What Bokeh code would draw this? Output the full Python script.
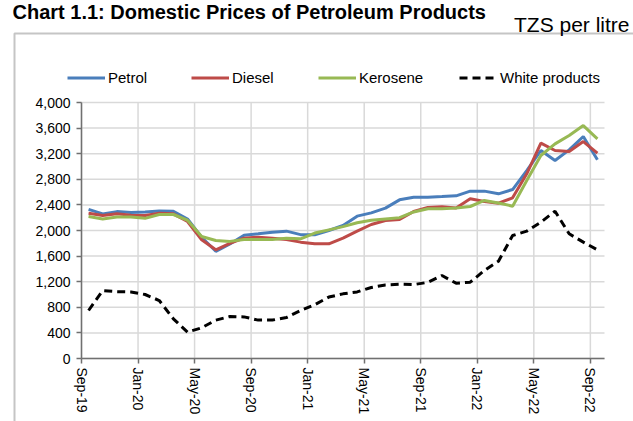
import pandas as pd
from bokeh.plotting import figure
from bokeh.models import (FixedTicker, NumeralTickFormatter, Legend, LegendItem,
                          Label, BoxAnnotation, Range1d)
from bokeh.embed import file_html
from bokeh.resources import INLINE

# ---------------- data ----------------
months = list(pd.period_range("2019-09", "2022-09", freq="M").strftime("%b-%y"))
tick_labels = ["Sep-19", "Jan-20", "May-20", "Sep-20", "Jan-21", "May-21",
               "Sep-21", "Jan-22", "May-22", "Sep-22"]

petrol = [2330, 2260, 2295, 2280, 2290, 2305, 2300, 2180, 1895, 1675, 1790, 1925,
          1948, 1974, 1990, 1935, 1932, 2000, 2078, 2224, 2276, 2349, 2479, 2521,
          2521, 2530, 2542, 2615, 2615, 2573, 2640, 2937, 3250, 3094, 3260, 3469, 3105]
diesel = [2270, 2234, 2260, 2240, 2234, 2270, 2260, 2140, 1854, 1698, 1800, 1880,
          1896, 1880, 1859, 1818, 1792, 1792, 1880, 1990, 2094, 2156, 2172, 2297,
          2360, 2370, 2350, 2495, 2453, 2427, 2510, 2885, 3365, 3250, 3234, 3390, 3208]
kerosene = [2218, 2180, 2210, 2210, 2190, 2250, 2250, 2160, 1906, 1844, 1830, 1860,
            1859, 1860, 1880, 1870, 1960, 2010, 2060, 2120, 2160, 2180, 2200, 2290,
            2340, 2340, 2350, 2375, 2469, 2430, 2380, 2781, 3172, 3354, 3484, 3640, 3432]
white = [750, 1062, 1045, 1040, 1000, 906, 620, 412, 480, 600, 656, 650,
         600, 600, 640, 750, 840, 960, 1010, 1040, 1110, 1150, 1160, 1155,
         1190, 1297, 1177, 1192, 1375, 1521, 1922, 1990, 2130, 2302, 1948, 1818, 1698]

series_names = ["Petrol", "Diesel", "Kerosene", "White products"]
y_ticks = list(range(0, 4001, 400))
y_max = 4000

# ---------------- layout (pixels) ----------------
W, H = 633, 421
PL, PR, PT, PB = 81, 604, 102, 358          # plot area inside the canvas
n = len(months)
x_px = (PR - PL) / n                         # pixels per month
y_px = (PB - PT) / y_max                     # pixels per unit
x_range = Range1d(-PL / x_px, (W - PL) / x_px)
y_range = Range1d(-(H - PB) / y_px, PB / y_px)

FONT = "Liberation Sans"
x = [i + 0.5 for i in range(n)]
tick_pos = [months.index(t) for t in tick_labels]

p = figure(width=W, height=H, output_backend="svg", toolbar_location=None,
           x_range=x_range, y_range=y_range,
           min_border_left=0, min_border_right=0, min_border_top=0,
           min_border_bottom=0)
p.outline_line_color = None
p.background_fill_color = "white"
p.border_fill_color = "white"
p.grid.visible = False

# gridlines limited to the plot area
p.segment(x0=0, x1=n, y0=y_ticks, y1=y_ticks, line_color="#d9d9d9", line_width=1.5)
p.segment(x0=tick_pos, x1=tick_pos, y0=0, y1=y_max, line_color="#d9d9d9", line_width=1.5)

colors = ["#4a7ebb", "#be4b48", "#98b954", "black"]
renderers = []
for vals, col in zip([petrol, diesel, kerosene, white], colors):
    dash = "8 5" if col == "black" else "solid"
    renderers.append(p.line(x, vals, line_color=col, line_width=3, line_dash=dash))

# axes fixed at the plot-area edges
xa, ya = p.xaxis[0], p.yaxis[0]
xa.fixed_location = 0
ya.fixed_location = 0
xa.bounds = (0, n)
ya.bounds = (0, y_max)
xa.ticker = FixedTicker(ticks=tick_pos)
xa.major_label_overrides = {pos: lab for pos, lab in zip(tick_pos, tick_labels)}
xa.major_label_orientation = "vertical"
ya.ticker = FixedTicker(ticks=y_ticks)
ya.formatter = NumeralTickFormatter(format="0,0")
for ax in (xa, ya):
    ax.axis_line_color = "#707070"
    ax.axis_line_width = 1.5
    ax.major_tick_line_color = "#707070"
    ax.major_tick_line_width = 1.5
    ax.major_tick_out = 5
    ax.major_tick_in = 0
    ax.minor_tick_line_color = None
    ax.major_label_text_font = FONT
    ax.major_label_text_color = "black"
    ax.major_label_text_font_size = "14px"
ya.major_label_standoff = 6
xa.major_label_standoff = 4

# legend: one entry each, spread across the top
legend_x = [67, 191, 318, 459]
for name, r, lx in zip(series_names, renderers, legend_x):
    lg = Legend(items=[LegendItem(label=name, renderers=[r])],
                location=(lx, H - 86), orientation="horizontal",
                glyph_width=38, glyph_height=15, label_height=15,
                label_standoff=3, spacing=0, padding=0, margin=0,
                border_line_color=None, background_fill_alpha=0,
                label_text_font=FONT, label_text_font_size="15px",
                label_text_color="black")
    p.add_layout(lg, "center")

# surrounding box and texts
box = BoxAnnotation(left=14, right=W + 50, top=H - 33, bottom=-50,
                    left_units="screen", right_units="screen",
                    top_units="screen", bottom_units="screen",
                    fill_alpha=0, line_color="#404040", line_width=2)
p.add_layout(box)

p.add_layout(Label(x=12, y=H, x_units="screen", y_units="screen",
                   text="Chart 1.1: Domestic Prices of Petroleum Products",
                   text_font=FONT, text_font_size="20px", text_font_style="bold",
                   text_color="black", text_baseline="top"))
p.add_layout(Label(x=629, y=H - 12, x_units="screen", y_units="screen",
                   text="TZS per litre", text_font=FONT, text_font_size="21px",
                   text_color="black", text_align="right",
                   text_baseline="top"))

open("out.html", "w").write(file_html(p, INLINE))
